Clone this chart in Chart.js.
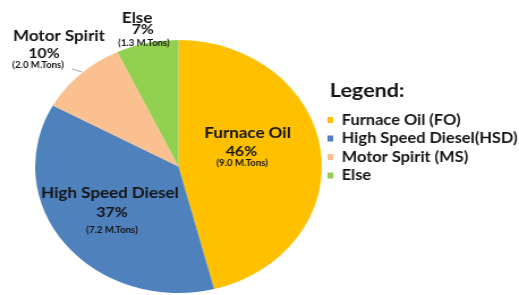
<!DOCTYPE html>
<html>
<head>
<meta charset="utf-8">
<script src="https://cdn.jsdelivr.net/npm/chart.js@4"></script>
<style>
    html, body { margin: 0; padding: 0; background: #fff; overflow: hidden; }
    /* the original picture is stretched sideways, so the canvas is too */
    #wrap { width: 458px; height: 295px; transform: scaleX(1.1332); transform-origin: 0 0; }
</style>
</head>
<body>
<div id="wrap"><canvas id="fuelChart" width="458" height="295"></canvas></div>
<script>
const fuels = ['Furnace Oil', 'High Speed Diesel', 'Motor Spirit', 'Else'];
const legendNames = ['Furnace Oil (FO)', 'High Speed Diesel(HSD)', 'Motor Spirit (MS)', 'Else'];
const shares = [46, 37, 10, 7];
const tons = [9.0, 7.2, 2.0, 1.3];
const sliceColors = ['#FFC000', '#4F81BD', '#FAC090', '#92D050'];

const FONT = 'Lato, "Open Sans", sans-serif';

// where each label sits: anchor as a fraction of the radius, then line offsets in px
const labelLayout = [
    { ax: 0.439, ay: -0.1225, name: [5.4, -18], tons: [0.6, 12] },
    { ax: -0.464, ay: 0.36, name: [-1.8, -19], tons: [0, 18] },
    { ax: -0.938, ay: -0.897, name: [13.2, -17], tons: [-5.3, 12], leader: [[24.7, 16], [33.6, 19]] },
    { ax: -0.249, ay: -1.087, name: [-5, -11], tons: [1, 14] }
];

// Etiquetas de cada porción
const sliceLabels = {
    id: 'sliceLabels',
    afterDatasetsDraw(chart) {
        const ctx = chart.ctx;
        const meta = chart.getDatasetMeta(0);
        ctx.save();
        ctx.textAlign = 'center';
        ctx.textBaseline = 'middle';
        ctx.fillStyle = '#141414';
        meta.data.forEach((arc, i) => {
            const lay = labelLayout[i];
            const R = arc.outerRadius;
            const x = arc.x + lay.ax * R;
            const y = arc.y + lay.ay * R;
            ctx.font = 'bold 15px ' + FONT;
            ctx.fillText(fuels[i], x + lay.name[0], y + lay.name[1]);
            ctx.font = 'bold 14px ' + FONT;
            ctx.fillText(shares[i] + '%', x, y);
            ctx.font = 'bold 8.5px ' + FONT;
            ctx.fillText('(' + tons[i].toFixed(1) + ' M.Tons)', x + lay.tons[0], y + lay.tons[1]);
            if (lay.leader) {
                ctx.strokeStyle = '#8c8c8c';
                ctx.lineWidth = 0.8;
                ctx.beginPath();
                ctx.moveTo(x + lay.leader[0][0], y + lay.leader[0][1]);
                ctx.lineTo(x + lay.leader[1][0], y + lay.leader[1][1]);
                ctx.stroke();
            }
        });
        ctx.restore();
    }
};

// Leyenda dibujada a mano a la derecha
const sideLegend = {
    id: 'sideLegend',
    afterDraw(chart) {
        const ctx = chart.ctx;
        const left = chart.chartArea.right + 5;
        ctx.save();
        ctx.textBaseline = 'middle';
        ctx.textAlign = 'left';
        ctx.fillStyle = '#141414';
        ctx.font = 'bold 19px ' + FONT;
        ctx.fillText('Legend:', left + 2, 91);
        ctx.font = 'bold 14.5px ' + FONT;
        legendNames.forEach((name, i) => {
            const y = 120 + i * 18.5;
            ctx.fillStyle = sliceColors[i];
            ctx.fillRect(left, y - 3, 5, 6);
            ctx.fillStyle = '#141414';
            ctx.fillText(name, left + 12.5, y);
        });
        ctx.restore();
    }
};

new Chart(document.getElementById('fuelChart').getContext('2d'), {
    type: 'pie',
    data: {
        labels: fuels,
        datasets: [{
            data: shares,
            backgroundColor: sliceColors,
            borderWidth: 0
        }]
    },
    options: {
        responsive: false,
        animation: false,
        layout: { padding: { left: 31, top: 40, right: 174, bottom: 2 } },
        plugins: {
            legend: { display: false },
            tooltip: { enabled: false }
        }
    },
    plugins: [sliceLabels, sideLegend]
});
</script>
</body>
</html>
